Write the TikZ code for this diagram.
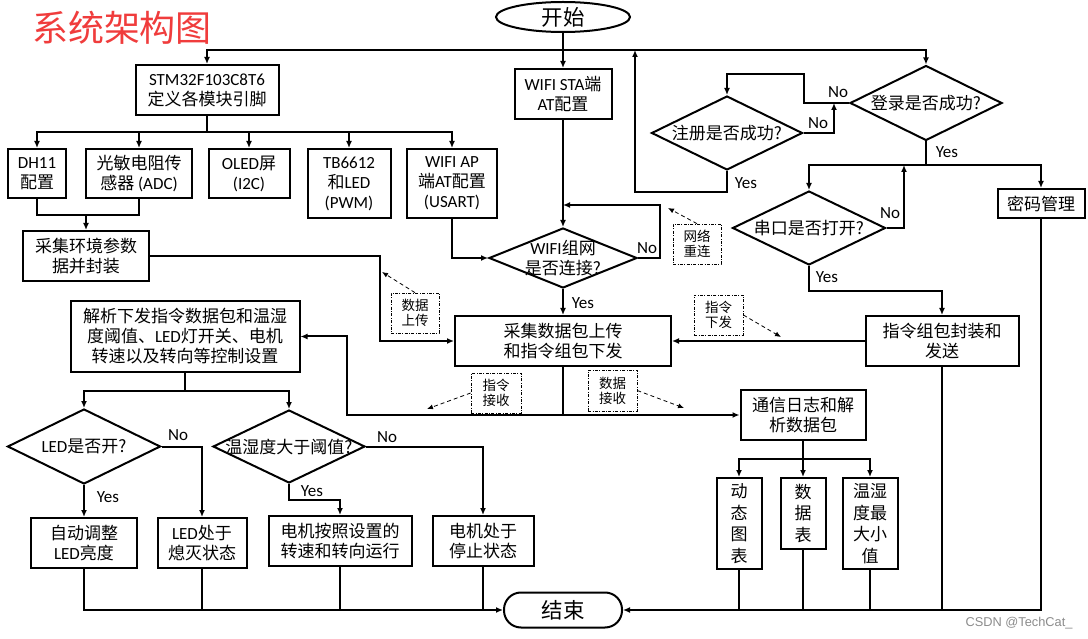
\documentclass[tikz,border=0pt]{standalone}
\usepackage{fontspec}
\setmainfont{Noto Sans CJK SC}
\newfontfamily\en{Carlito}
\newfontfamily\wmfont{Liberation Sans}
\usetikzlibrary{arrows.meta,shapes.geometric}
\newcommand\fs{\fontsize{17}{20}\selectfont}
\newcommand\fsv{\fontsize{17}{21.5}\selectfont}
\newcommand\fsa{\fontsize{13.5}{15}\selectfont}
\newcommand\fsb{\fontsize{21.5}{24}\selectfont}
\newcommand\E[1]{{\en #1}}
\definecolor{titred}{RGB}{240,60,60}
\tikzset{
 ln/.style={line width=2pt},
 arr/.style={-{Latex[length=7pt,width=6pt]}},
 box/.style={draw, line width=2pt, inner sep=0pt, align=center, font=\fs},
 dia/.style={draw, diamond, shape aspect=2, inner sep=0pt, line width=2pt},
 lbl/.style={font=\fs, align=center, inner sep=0pt},
 yn/.style={font=\en\fs, inner sep=0pt},
 ann/.style={draw, line width=0.7pt, dash pattern=on 3pt off 1.5pt on 0.8pt off 1.5pt, inner sep=0pt, align=center, font=\fsa},
 dar/.style={line width=0.8pt, dash pattern=on 4pt off 3pt, -{Latex[length=6pt,width=5pt]}},
}
\begin{document}
\begin{tikzpicture}[x=1pt,y=-1pt]
\fill[white] (0,0) rectangle (1088,639);
\useasboundingbox (0,0) rectangle (1088,639);

\node[font=\fontsize{36}{40}\selectfont, text=titred, inner sep=0pt] (title) at (122,28) {系统架构图};

% nodes
\node[draw, ellipse, line width=2pt, minimum width=134, minimum height=30, inner sep=0pt, font=\fsb] (beg) at (563,17) {开始};
\node[box, minimum width=143, minimum height=50] (stm) at (207,90) {\E{STM32F103C8T6}\\定义各模块引脚};
\node[box, minimum width=97, minimum height=50] (wsta) at (563,94) {\E{WIFI STA}端\\\E{AT}配置};

\node[box, minimum width=58, minimum height=49] (dh) at (37,173.5) {\E{DH11}\\配置};
\node[box, minimum width=106, minimum height=49] (gm) at (139,173.5) {光敏电阻传\\感器 \E{(ADC)}};
\node[box, minimum width=81, minimum height=49] (oled) at (249,173.5) {\E{OLED}屏\\\E{(I2C)}};
\node[box, minimum width=83, minimum height=69] (tb) at (349,183.5) {\E{TB6612}\\和\E{LED}\\\E{(PWM)}};
\node[box, minimum width=90, minimum height=69] (wap) at (452,183.5) {\E{WIFI AP}\\端\E{AT}配置\\\E{(USART)}};

\node[box, minimum width=126, minimum height=50] (cj) at (86,256) {采集环境参数\\据并封装};
\node[box, minimum width=216, minimum height=50] (cs) at (563,341) {采集数据包上传\\和指令组包下发};
\node[box, minimum width=229, minimum height=71] (jx) at (185,336.5) {解析下发指令数据包和温湿\\度阈值、\E{LED}灯开关、电机\\转速以及转向等控制设置};

\node[dia, minimum width=148, minimum height=60, label={[name=wdl,lbl]center:{\E{WIFI}组网\\是否连接?}}] (wd) at (563,258) {};
\node[dia, minimum width=151, minimum height=74, label={[name=regl,lbl]center:{注册是否成功?}}] (reg) at (727,133) {};
\node[dia, minimum width=152, minimum height=75, label={[name=loginl,lbl]center:{登录是否成功?}}] (login) at (926,103) {};
\node[dia, minimum width=153, minimum height=74, label={[name=seriall,lbl]center:{串口是否打开?}}] (serial) at (809,228) {};
\node[dia, minimum width=153, minimum height=75, label={[name=ledl,lbl]center:{\E{LED}是否开?}}] (led) at (84,446.5) {};
\node[dia, minimum width=152, minimum height=73, label={[name=thl,lbl]center:{温湿度大于阈值?}}] (th) at (289,446.5) {};

\node[box, minimum width=87, minimum height=29] (pwd) at (1041,203.5) {密码管理};
\node[box, minimum width=153, minimum height=50] (zhxf) at (942,341) {指令组包封装和\\发送};
\node[box, minimum width=125, minimum height=50] (txrz) at (803,415) {通信日志和解\\析数据包};
\node[box, font=\fsv, minimum width=45, minimum height=91] (dt) at (739,523.5) {动\\态\\图\\表};
\node[box, font=\fsv, minimum width=45, minimum height=71] (sjb) at (803,513.5) {数\\据\\表};
\node[box, font=\fsv, minimum width=55, minimum height=91] (wsd) at (870,523.5) {温湿\\度最\\大小\\值};

\node[box, minimum width=106, minimum height=50] (zd) at (84,543) {自动调整\\\E{LED}亮度};
\node[box, minimum width=89, minimum height=50] (ledoff) at (202,543) {\E{LED}处于\\熄灭状态};
\node[box, minimum width=143, minimum height=50] (mrun) at (340,541) {电机按照设置的\\转速和转向运行};
\node[box, minimum width=101, minimum height=50] (mstop) at (483,541) {电机处于\\停止状态};

\node[draw, line width=2pt, rounded corners=17pt, minimum width=118, minimum height=35, inner sep=0pt, font=\fsb] (fin) at (563,610) {结束};

% annotations
\node[ann, minimum width=48, minimum height=40] (sjsc) at (415,313) {数据\\上传};
\node[ann, minimum width=48, minimum height=40] (wlcl) at (697,244) {网络\\重连};
\node[ann, minimum width=49, minimum height=40] (zlxf) at (718.5,315) {指令\\下发};
\node[ann, minimum width=50, minimum height=40] (zljs) at (496,393) {指令\\接收};
\node[ann, minimum width=49, minimum height=41] (sjjs) at (612.5,390.5) {数据\\接收};

\coordinate (t1) at (382,272);
\coordinate (t2) at (668,208);
\coordinate (t3) at (781,337);
\coordinate (t4) at (427,409);
\coordinate (t5) at (684,408);
\draw[dar] (sjsc.north) -- (t1);
\draw[dar] (wlcl.north) -- (t2);
\draw[dar] (zlxf.east) -- (t3);
\draw[dar] (zljs.west) -- (t4);
\draw[dar] (sjjs.east) -- (t5);

% yes / no labels
\node[yn] (n1) at (838,92) {No};
\node[yn] (n2) at (818,123) {No};
\node[yn] (y1) at (746,183) {Yes};
\node[yn] (y2) at (947,152) {Yes};
\node[yn] (n3) at (890,213) {No};
\node[yn] (y3) at (827,277) {Yes};
\node[yn] (n4) at (647,248) {No};
\node[yn] (y4) at (583,303) {Yes};
\node[yn] (n5) at (178,435) {No};
\node[yn] (y5) at (108,497) {Yes};
\node[yn] (y6) at (312,491) {Yes};
\node[yn] (n6) at (387,437) {No};

% connectors
\coordinate (jt) at (563,50);
\draw[ln,arr] (beg.south) -- (wsta.north);
\draw[ln,arr] (jt) -| (stm.north);
\draw[ln,arr] (jt) -| (login.north);

\coordinate (j1) at (207,132);
\draw[ln] (stm.south) -- (j1);
\foreach \n in {dh,gm,oled,tb,wap} \draw[ln,arr] (j1) -| (\n.north);

\coordinate (j2) at (86,215);
\draw[ln] (dh.south) |- (gm.south |- j2) -- (gm.south);
\draw[ln,arr] (j2) -- (cj.north);

\coordinate (k1) at (380,341);
\draw[ln,arr] (cj.east) -| (k1) -- (cs.west);

\draw[ln,arr] (wap.south) |- (wd.west);
\draw[ln,arr] (wsta.south) -- (wd.north);
\coordinate (k2) at (660,205);
\draw[ln,arr] (wd.east) -| (k2) -- (wsta.south |- k2);
\draw[ln,arr] (wd.south) -- (cs.north);

\draw[ln,arr] (zhxf.west) -- (cs.east);

\coordinate (k3) at (809,291);
\draw[ln,arr] (serial.south) |- (zhxf.north |- k3) -- (zhxf.north);

\coordinate (k4) at (926,165);
\draw[ln] (login.south) -- (k4);
\draw[ln,arr] (k4) -| (serial.north);
\draw[ln,arr] (k4) -| (pwd.north);
\coordinate (k5) at (904,228);
\draw[ln,arr] (serial.east) -- (k5) -- (k5 |- k4);

\coordinate (k6) at (804,74);
\draw[ln,arr] (login.west) -| (k6) -| (reg.north);
\coordinate (k7) at (834,133);
\draw[ln,arr] (reg.east) -- (k7) -- (k7 |- login.west);
\coordinate (k8) at (635,192);
\draw[ln,arr] (reg.south) |- (k8) -- (k8 |- jt);

\coordinate (k9) at (563,415);
\coordinate (k10) at (347,415);
\draw[ln] (cs.south) -- (k9);
\draw[ln,arr] (k9) -- (k10) |- (jx.east);
\draw[ln,arr] (k9) -- (txrz.west);

\coordinate (k11) at (185,391);
\draw[ln] (jx.south) -- (k11);
\draw[ln,arr] (k11) -| (led.north);
\draw[ln,arr] (k11) -| (th.north);

\draw[ln,arr] (led.south) -- (zd.north);
\draw[ln,arr] (led.east) -| (ledoff.north);
\coordinate (k12) at (289,500);
\draw[ln,arr] (th.south) |- (mrun.north |- k12) -- (mrun.north);
\draw[ln,arr] (th.east) -| (mstop.north);

\draw[ln,arr] (zd.south) |- (fin.west);
\foreach \n in {ledoff,mrun,mstop} \draw[ln] (\n.south) -- (\n.south |- fin.west);

\draw[ln,arr] (pwd.south) |- (fin.east);
\foreach \n in {zhxf,dt,sjb,wsd} \draw[ln] (\n.south) -- (\n.south |- fin.east);

\coordinate (k14) at (803,459);
\draw[ln] (txrz.south) -- (k14);
\foreach \n in {dt,sjb,wsd} \draw[ln,arr] (k14) -| (\n.north);

\node[font=\wmfont\fontsize{12.8}{14}\selectfont, text=black!45, inner sep=0pt] (wm) at (1019,623) {CSDN @TechCat\_};
\end{tikzpicture}
\end{document}
